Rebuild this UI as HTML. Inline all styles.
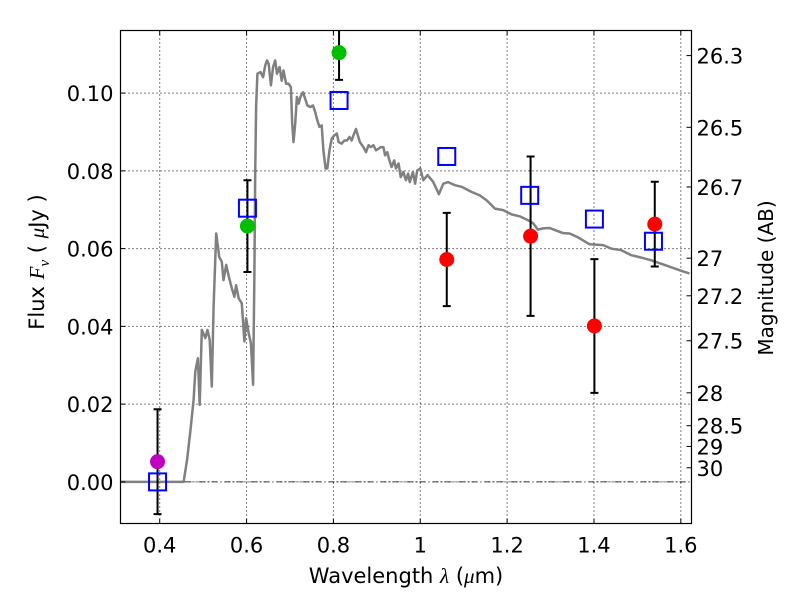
<!DOCTYPE html>
<html><head><meta charset="utf-8"><style>
html,body{margin:0;padding:0;background:#fff}
svg{display:block;font-family:"DejaVu Sans","Liberation Sans",sans-serif}
</style></head><body>
<svg id="chart" width="800" height="600" viewBox="0 0 800 600">
<rect width="800" height="600" fill="#fff"/>
<g id="grid"></g>
<line id="zeroline" stroke="#000" stroke-width="0.8" stroke-dasharray="6,3,1,3"/>
<g id="series"></g>
<rect x="120.5" y="30.5" width="571" height="493" fill="none" stroke="#000" stroke-width="1.2"/>
<g id="axes"></g>
<text x="406" y="583" font-size="21" text-anchor="middle">Wavelength <tspan font-family="Liberation Serif, serif" font-style="italic">λ</tspan> (<tspan font-family="Liberation Serif, serif" font-style="italic">μ</tspan>m)</text>
<text transform="translate(44,262) rotate(-90)" font-size="21" text-anchor="middle">Flux  <tspan font-family="Liberation Serif, serif" font-style="italic">F</tspan><tspan font-family="Liberation Serif, serif" font-style="italic" font-size="15" dy="5">ν</tspan><tspan dy="-5">  (  </tspan><tspan font-family="Liberation Serif, serif" font-style="italic">μ</tspan>Jy )</text>
<text transform="translate(773,278) rotate(-90)" font-size="20" text-anchor="middle">Magnitude (AB)</text>
</svg>
<script>
const specLambda=[0.30,0.455,0.463,0.471,0.478,0.482,0.488,0.492,0.497,0.505,0.510,0.515,0.520,0.524,0.530,0.537,0.543,0.547,0.553,0.559,0.566,0.572,0.576,0.582,0.589,0.595,0.599,0.605,0.610,0.615,0.618,0.620,0.622,0.625,0.632,0.638,0.643,0.647,0.651,0.656,0.661,0.666,0.670,0.676,0.681,0.685,0.691,0.697,0.702,0.705,0.708,0.712,0.716,0.720,0.724,0.730,0.735,0.740,0.747,0.753,0.758,0.763,0.768,0.773,0.777,0.782,0.786,0.791,0.796,0.802,0.808,0.812,0.819,0.825,0.831,0.837,0.842,0.846,0.852,0.855,0.861,0.869,0.875,0.881,0.886,0.892,0.898,0.904,0.909,0.915,0.919,0.924,0.929,0.934,0.940,0.944,0.950,0.955,0.961,0.967,0.972,0.976,0.983,0.988,0.993,1.000,1.007,1.017,1.030,1.043,1.053,1.064,1.080,1.095,1.118,1.137,1.153,1.172,1.191,1.210,1.229,1.248,1.260,1.271,1.283,1.298,1.314,1.329,1.344,1.363,1.390,1.421,1.440,1.463,1.486,1.509,1.532,1.570,1.601,1.620];
const specFlux=[0,0,0.0057,0.0134,0.0211,0.0284,0.0318,0.0198,0.0391,0.0370,0.0391,0.0365,0.0245,0.0451,0.0639,0.0579,0.0566,0.0519,0.0558,0.0528,0.0498,0.0476,0.0506,0.0472,0.0459,0.0361,0.0421,0.0382,0.0357,0.0250,0.0536,0.0793,0.0964,0.1050,0.1054,0.1041,0.1071,0.1084,0.1075,0.1020,0.1067,0.1084,0.1050,0.1067,0.1032,0.1058,0.1024,0.1024,0.1015,0.0921,0.0874,0.0921,0.0990,0.0973,0.0990,0.1002,0.0985,0.0968,0.0964,0.0968,0.0951,0.0930,0.0913,0.0917,0.0853,0.0806,0.0806,0.0853,0.0883,0.0891,0.0896,0.0874,0.0870,0.0878,0.0878,0.0887,0.0878,0.0891,0.0908,0.0896,0.0874,0.0861,0.0848,0.0866,0.0861,0.0866,0.0853,0.0857,0.0861,0.0861,0.0840,0.0848,0.0827,0.0810,0.0827,0.0806,0.0819,0.0784,0.0797,0.0776,0.0793,0.0771,0.0797,0.0767,0.0801,0.0806,0.0776,0.0789,0.0771,0.0740,0.0767,0.0771,0.0763,0.0759,0.0746,0.0737,0.0724,0.0703,0.0699,0.0688,0.0683,0.0673,0.0665,0.0649,0.0652,0.0653,0.0646,0.0640,0.0639,0.0629,0.0611,0.0609,0.0600,0.0596,0.0583,0.0577,0.0570,0.0555,0.0543,0.0536];
const modelLambda=[0.395,0.602,0.813,1.061,1.252,1.401,1.537];
const modelFlux=[0.000,0.0704,0.0981,0.0837,0.0737,0.0676,0.0619];
const purpleLambda=[0.395];const purpleFlux=[0.0052];const purpleErr=[0.0135];
const greenLambda=[0.602,0.813];const greenFlux=[0.0658,0.1104];const greenErr=[0.0118,0.007];
const redLambda=[1.061,1.254,1.401,1.540];const redFlux=[0.0572,0.0632,0.0401,0.0663];const redErr=[0.012,0.0205,0.0172,0.0109];
const xTicks=[0.4,0.6,0.8,1.0,1.2,1.4,1.6];const xTickLabels=["0.4","0.6","0.8","1","1.2","1.4","1.6"];
const yTicks=[0,0.02,0.04,0.06,0.08,0.10];const yTickLabels=["0.00","0.02","0.04","0.06","0.08","0.10"];
const magTicks=[26.3,26.5,26.7,27,27.2,27.5,28,28.5,29,30];const magTickLabels=["26.3","26.5","26.7","27","27.2","27.5","28","28.5","29","30"];

const L=120.5,R=691.5,T=30.5,B=523.5;
const x0=0.3097,x1=1.6246,y0=-0.0107,y1=0.1161;
const X=v=>L+(v-x0)/(x1-x0)*(R-L);
const Y=v=>B-(v-y0)/(y1-y0)*(B-T);
const NS="http://www.w3.org/2000/svg";
function mk(tag,attrs,parent){const e=document.createElementNS(NS,tag);for(const k in attrs)e.setAttribute(k,attrs[k]);parent.appendChild(e);return e;}
const grid=document.getElementById('grid'),series=document.getElementById('series'),axes=document.getElementById('axes');
xTicks.forEach((t,i)=>{
  const g=mk('line',{x1:X(t),x2:X(t),y1:T,y2:B,stroke:'#000','stroke-width':1,'stroke-dasharray':'1,3'},grid);
  
  const a=mk('line',{x1:X(t),x2:X(t),y1:B,y2:B-5,stroke:'#000'},axes);
  
  const b=mk('line',{x1:X(t),x2:X(t),y1:T,y2:T+5,stroke:'#000'},axes);
  
  const tx=mk('text',{x:X(t),y:B+29,'font-size':21,'text-anchor':'middle'},axes);tx.textContent=xTickLabels[i];
  
});
yTicks.forEach((t,i)=>{
  const g=mk('line',{x1:L,x2:R,y1:Y(t),y2:Y(t),stroke:'#000','stroke-width':1,'stroke-dasharray':'1,3'},grid);
  
  const a=mk('line',{x1:L,x2:L+5,y1:Y(t),y2:Y(t),stroke:'#000'},axes);
  
  const tx=mk('text',{x:L-7,y:Y(t)+8,'font-size':21,'text-anchor':'end'},axes);tx.textContent=yTickLabels[i];
  
});
magTicks.forEach((m,i)=>{
  const f=Math.pow(10,(23.9-m)/2.5);
  const a=mk('line',{x1:R,x2:R-5,y1:Y(f),y2:Y(f),stroke:'#000'},axes);
  
  const tx=mk('text',{x:R+5,y:Y(f)+8,'font-size':21},axes);tx.textContent=magTickLabels[i];
  
});
const z=document.getElementById('zeroline');z.setAttribute('x1',L);z.setAttribute('x2',R);z.setAttribute('y1',Y(0));z.setAttribute('y2',Y(0));
const d=specLambda.map((l,i)=>(i?'L':'M')+Math.max(L,X(l)).toFixed(1)+','+Y(specFlux[i]).toFixed(1)).join('');
const sp=mk('path',{d:d,fill:'none',stroke:'#808080','stroke-width':2.5,'stroke-linejoin':'round'},series);

function errs(ls,fs,es,name){ls.forEach((l,i)=>{
  const yt=Math.max(T,Y(fs[i]+es[i])),yb=Math.min(B,Y(fs[i]-es[i]));
  const e=mk('path',{d:`M${X(l)},${yt}V${yb}`+(Y(fs[i]+es[i])>T?`M${X(l)-4},${yt}h8`:'')+(Y(fs[i]-es[i])<B?`M${X(l)-4},${yb}h8`:''),stroke:'#000','stroke-width':2,fill:'none'},series);
  
});}
function dots(ls,fs,col,name){ls.forEach((l,i)=>{
  const c=mk('circle',{cx:X(l),cy:Y(fs[i]),r:7.5,fill:col},series);
  
});}
errs(purpleLambda,purpleFlux,purpleErr,'purple');errs(greenLambda,greenFlux,greenErr,'green');errs(redLambda,redFlux,redErr,'red');
dots(purpleLambda,purpleFlux,'#bf00bf','purple');dots(greenLambda,greenFlux,'#00bf00','green');dots(redLambda,redFlux,'#ff0000','red');
modelLambda.forEach((l,i)=>{
  const s=mk('rect',{x:X(l)-8.5,y:Y(modelFlux[i])-8.5,width:17,height:17,fill:'none',stroke:'#0000ff','stroke-width':2},series);
  
});
</script>
</body></html>
